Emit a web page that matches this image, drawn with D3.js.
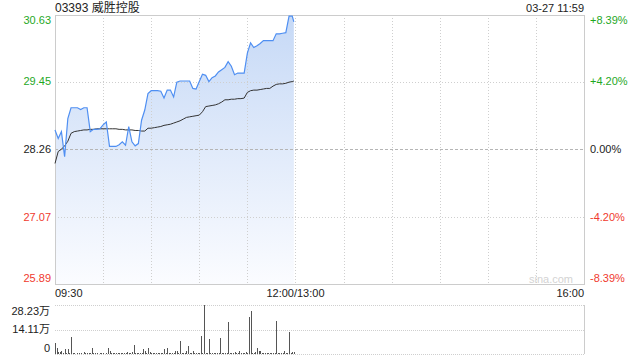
<!DOCTYPE html>
<html>
<head>
<meta charset="utf-8">
<script src="https://cdn.jsdelivr.net/npm/d3@7"></script>
<style>
  body { margin: 0; background: #fff; }
  svg { display: block; font-family: "Liberation Sans", Arial, "Noto Sans CJK SC", sans-serif; }
</style>
</head>
<body>
<svg class="chart" width="640" height="360"></svg>
<script>
// 分時資料 (每兩分鐘取一點)
const times = ['09:30','09:32','09:34','09:36','09:38','09:40','09:42','09:44','09:46','09:48',
  '09:50','09:52','09:54','09:56','09:58','10:00','10:02','10:04','10:06','10:08',
  '10:10','10:12','10:14','10:16','10:18','10:20','10:22','10:24','10:26','10:28',
  '10:30','10:32','10:34','10:36','10:38','10:40','10:42','10:44','10:46','10:48',
  '10:50','10:52','10:54','10:56','10:58','11:00','11:02','11:04','11:06','11:08',
  '11:10','11:12','11:14','11:16','11:18','11:20','11:22','11:24','11:26','11:28',
  '11:30','11:32','11:34','11:36','11:38','11:40','11:42','11:44','11:46','11:48',
  '11:50','11:52','11:54','11:56','11:58','11:59'];
const prices = [28.60,28.45,28.57,28.13,28.80,28.99,28.99,28.99,28.96,28.99,
  28.99,28.57,28.61,28.61,28.62,28.69,28.74,28.31,28.31,28.31,
  28.34,28.39,28.33,28.66,28.39,28.32,28.36,28.77,28.95,29.24,
  29.29,29.29,29.29,29.28,29.16,29.30,29.30,29.18,29.44,29.46,
  29.46,29.46,29.46,29.33,29.32,29.45,29.58,29.56,29.45,29.52,
  29.55,29.62,29.66,29.70,29.80,29.72,29.57,29.60,29.60,29.60,
  29.95,30.13,30.05,30.08,30.12,30.17,30.17,30.17,30.17,30.29,
  30.29,30.30,30.31,30.60,30.60,30.50];
const avgPrices = [28.01,28.22,28.26,28.32,28.40,28.54,28.57,28.58,28.59,28.60,
  28.60,28.61,28.61,28.62,28.62,28.62,28.62,28.62,28.62,28.62,
  28.61,28.61,28.60,28.60,28.60,28.59,28.59,28.58,28.58,28.63,
  28.63,28.64,28.65,28.66,28.68,28.69,28.70,28.72,28.74,28.76,
  28.79,28.82,28.83,28.84,28.85,28.86,28.92,29.01,29.02,29.03,
  29.04,29.06,29.09,29.13,29.13,29.14,29.14,29.15,29.15,29.16,
  29.26,29.29,29.30,29.30,29.31,29.32,29.33,29.33,29.37,29.40,
  29.41,29.41,29.42,29.44,29.45,29.46];

// 成交量 (萬股, 每分鐘一根, 09:30 起)
const volumes = [6.2,3.3,1.3,1.0,1.5,0.4,2.7,0.3,2.7,0.5,
  10.0,0.3,0.6,0.2,0.8,0.3,0.5,0.2,1.3,0.4,
  0.3,0.6,0.4,3.6,0.5,0.3,0.4,0.2,0.6,0.3,
  0.5,0.2,0.4,3.3,1.9,0.6,0.3,0.5,0.4,0.3,
  0.8,0.4,0.3,0.7,0.3,0.9,0.4,0.6,1.2,5.2,
  0.4,0.3,0.5,0.3,0.6,2.7,1.9,0.8,3.3,1.2,
  0.5,0.4,0.3,0.5,0.4,0.3,0.6,0.4,2.7,0.5,
  3.3,0.4,0.3,0.6,0.8,1.7,2.0,0.7,7.5,0.6,
  0.4,0.5,2.0,4.8,0.6,0.8,2.0,0.5,0.7,0.5,
  0.6,10.4,0.5,28.23,0.8,0.6,8.6,0.4,0.5,0.7,
  0.5,0.4,0.3,9.2,0.4,0.6,0.5,0.3,18.4,0.5,
  0.8,0.6,1.2,0.4,0.5,1.7,0.6,0.4,0.5,1.0,
  0.7,21.5,24.8,0.6,0.5,1.2,3.3,2.0,1.5,0.7,
  0.5,0.6,0.4,0.3,0.5,0.4,0.6,0.3,19.0,0.5,
  0.4,0.3,0.5,1.9,0.6,0.4,12.7,0.5,1.3,1.3];

// 座標軸標籤
const priceTicks = [30.63, 29.45, 28.26, 27.07, 25.89];
const pctTicks = ['+8.39%', '+4.20%', '0.00%', '-4.20%', '-8.39%'];
const volTicks = [28.23, 14.11, 0];
const timeLabels = ['09:30', '12:00/13:00', '16:00'];
const prevClose = 28.26;
const title = '03393 威胜控股';
const stamp = '03-27 11:59';

const svg = d3.select('svg.chart');
const plotLeft = 55, plotRight = 584, plotTop = 14.5, plotBottom = 284;
const volTop = 305, volBottom = 354;
const green = '#1fa81f', red = '#f03a2e';

// 09:30 起算的分鐘數 (午休 12:00-13:00 不佔位置)
function toMinute(t) {
  const [h, m] = t.split(':').map(Number);
  const total = h * 60 + m;
  return total >= 13 * 60 ? total - 13 * 60 + 150 : total - (9 * 60 + 30);
}

const x = d3.scaleLinear().domain([0, 330]).range([plotLeft, plotRight]);
const y = d3.scaleLinear().domain([priceTicks[4], priceTicks[0]]).range([plotBottom, plotTop]);
const yVol = d3.scaleLinear().domain([0, volTicks[0]]).range([volBottom, volTop]);

function priceColor(v) {
  if (v > prevClose) return green;
  if (v < prevClose) return red;
  return '#222';
}

// 漸層填色
const grad = svg.append('defs').append('linearGradient')
  .attr('id', 'areaFill').attr('x1', 0).attr('y1', 0).attr('x2', 0).attr('y2', 1);
grad.append('stop').attr('offset', '0%').attr('stop-color', '#c6d9f6');
grad.append('stop').attr('offset', '100%').attr('stop-color', '#fbfcff');

const points = times.map((t, i) => ({ m: toMinute(t), p: prices[i], a: avgPrices[i] }));

svg.append('path')
  .datum(points)
  .attr('fill', 'url(#areaFill)')
  .attr('d', d3.area().x(d => x(d.m)).y0(plotBottom).y1(d => y(d.p)));

// 格線
const grid = svg.append('g').attr('shape-rendering', 'crispEdges');
d3.range(30, 330, 30).forEach((m) => {
  grid.append('line')
    .attr('x1', Math.round(x(m)) + 0.5).attr('x2', Math.round(x(m)) + 0.5)
    .attr('y1', plotTop).attr('y2', plotBottom)
    .attr('stroke', '#cfcfcf').attr('stroke-dasharray', '1,2');
});
priceTicks.slice(1, 4).forEach((v) => {
  const isBase = v === prevClose;
  grid.append('line')
    .attr('x1', plotLeft).attr('x2', plotRight)
    .attr('y1', Math.round(y(v)) + 0.5).attr('y2', Math.round(y(v)) + 0.5)
    .attr('stroke', isBase ? '#b5b5b5' : '#cfcfcf')
    .attr('stroke-dasharray', isBase ? '3,2' : '1,2');
});
grid.append('rect')
  .attr('x', plotLeft + 0.5).attr('y', Math.round(plotTop) + 0.5)
  .attr('width', plotRight - plotLeft).attr('height', plotBottom - Math.round(plotTop))
  .attr('fill', 'none').attr('stroke', '#cccccc');

// 均價線、價格線
svg.append('path')
  .datum(points)
  .attr('fill', 'none').attr('stroke', '#333').attr('stroke-width', 1)
  .attr('d', d3.line().x(d => x(d.m)).y(d => y(d.a)));

svg.append('path')
  .datum(points)
  .attr('fill', 'none').attr('stroke', '#4f8ff2').attr('stroke-width', 1.2)
  .attr('d', d3.line().x(d => x(d.m)).y(d => y(d.p)));

// 左側價格、右側漲跌幅
const labelDy = [5.5, 0, 0, 0, -6];
priceTicks.forEach((v, i) => {
  svg.append('text')
    .attr('x', 51).attr('y', y(v) + labelDy[i])
    .attr('dy', '0.35em').attr('text-anchor', 'end')
    .attr('font-size', 11).attr('fill', priceColor(v))
    .text(v.toFixed(2));
  svg.append('text')
    .attr('x', 590).attr('y', y(v) + labelDy[i])
    .attr('dy', '0.35em')
    .attr('font-size', 11).attr('fill', priceColor(v))
    .text(pctTicks[i]);
});

// 時間軸
const timeAnchor = ['start', 'middle', 'end'];
[0, 150, 330].forEach((m, i) => {
  svg.append('text')
    .attr('x', x(m)).attr('y', 293.5).attr('dy', '0.35em')
    .attr('text-anchor', timeAnchor[i])
    .attr('font-size', 11).attr('fill', '#222')
    .text(timeLabels[i]);
});

svg.append('text')
  .attr('x', 573).attr('y', 279).attr('dy', '0.35em').attr('text-anchor', 'end')
  .attr('font-size', 11).attr('fill', '#d3d3d3')
  .text('sina.com');

// 成交量區
const volGrid = svg.append('g').attr('shape-rendering', 'crispEdges');
volTicks.forEach((v) => {
  volGrid.append('line')
    .attr('x1', plotLeft).attr('x2', plotRight)
    .attr('y1', Math.round(yVol(v)) + 0.5).attr('y2', Math.round(yVol(v)) + 0.5)
    .attr('stroke', '#cfcfcf').attr('stroke-dasharray', '1,1');
});
volGrid.append('line')
  .attr('x1', plotRight + 0.5).attr('x2', plotRight + 0.5)
  .attr('y1', volTop).attr('y2', volBottom)
  .attr('stroke', '#cccccc');

svg.append('g').attr('shape-rendering', 'crispEdges')
  .selectAll('rect')
  .data(volumes)
  .join('rect')
  .attr('x', (d, i) => x(i))
  .attr('width', 1)
  .attr('y', d => yVol(d))
  .attr('height', d => volBottom - yVol(d))
  .attr('fill', '#555');

const volDy = [6, 0, -5.5];
volTicks.forEach((v, i) => {
  svg.append('text')
    .attr('x', 50).attr('y', yVol(v) + volDy[i])
    .attr('dy', '0.35em').attr('text-anchor', 'end')
    .attr('font-size', 11).attr('fill', '#222')
    .text(v === 0 ? '0' : v.toFixed(2) + '万');
});

// 標題、時間
svg.append('text')
  .attr('x', 55).attr('y', 11.5)
  .attr('font-size', 12).attr('fill', '#222')
  .text(title);
svg.append('text')
  .attr('x', 584).attr('y', 11.5).attr('text-anchor', 'end')
  .attr('font-size', 11).attr('fill', '#222')
  .text(stamp);
</script>
</body>
</html>
